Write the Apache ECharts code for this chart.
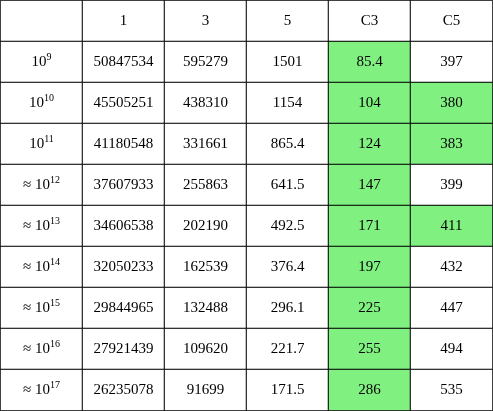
<!DOCTYPE html>
<html><head><meta charset="utf-8">
<script src="https://cdn.jsdelivr.net/npm/echarts@6/dist/echarts.min.js"></script>
<style>html,body{margin:0;padding:0;background:#fff}#c{width:493px;height:411px}</style>
</head><body><div id="c"></div>
<script>
// 表头与行标签
const headers = ['', '1', '3', '5', 'C3', 'C5'];
const rowPrefix = ['', '', '', '≈ ', '≈ ', '≈ ', '≈ ', '≈ ', '≈ '];
const rowExp = [9, 10, 11, 12, 13, 14, 15, 16, 17];
// 各列数值
const col1 = [50847534, 45505251, 41180548, 37607933, 34606538, 32050233, 29844965, 27921439, 26235078];
const col3 = [595279, 438310, 331661, 255863, 202190, 162539, 132488, 109620, 91699];
const col5 = [1501, 1154, 865.4, 641.5, 492.5, 376.4, 296.1, 221.7, 171.5];
const colC3 = [85.4, 104, 124, 147, 171, 197, 225, 255, 286];
const colC5 = [397, 380, 383, 399, 411, 432, 447, 494, 535];
// 高亮标记
const hlC3 = [1, 1, 1, 1, 1, 1, 1, 1, 1];
const hlC5 = [0, 1, 1, 0, 1, 0, 0, 0, 0];

const cols = [null, col1, col3, col5, colC3, colC5];
const green = '#80f080';
const nRows = rowExp.length + 1;
const data = [];
for (let r = 0; r < nRows; r++) {
  for (let c = 0; c < headers.length; c++) {
    let text, fill = '#fff';
    if (r === 0) text = headers[c];
    else if (c === 0) text = '{b|' + rowPrefix[r - 1] + '10}{s|' + rowExp[r - 1] + '}';
    else {
      text = String(cols[c][r - 1]);
      if ((c === 4 && hlC3[r - 1]) || (c === 5 && hlC5[r - 1])) fill = green;
    }
    data.push({ value: [c, nRows - 1 - r, 0], text, itemStyle: { color: fill } });
  }
}

const chart = echarts.init(document.getElementById('c'));
chart.setOption({
  animation: false,
  grid: { left: 0.5, right: 0.5, top: 0.5, bottom: 0.5 },
  xAxis: { type: 'category', data: headers.map((_, i) => i), show: false },
  yAxis: { type: 'category', data: Array.from({ length: nRows }, (_, i) => i), show: false },
  series: [{
    type: 'heatmap',
    data,
    itemStyle: { borderColor: '#000', borderWidth: 1 },
    label: {
      show: true, color: '#000', fontFamily: 'Liberation Serif', fontSize: 15,
      formatter: p => p.data.text,
      rich: {
        b: { fontFamily: 'Liberation Serif', fontSize: 15, color: '#000' },
        s: { fontFamily: 'Liberation Serif', fontSize: 10, color: '#000', padding: [0, 0, 9, 0] }
      }
    },
    emphasis: { disabled: true }
  }]
});
</script></body></html>
